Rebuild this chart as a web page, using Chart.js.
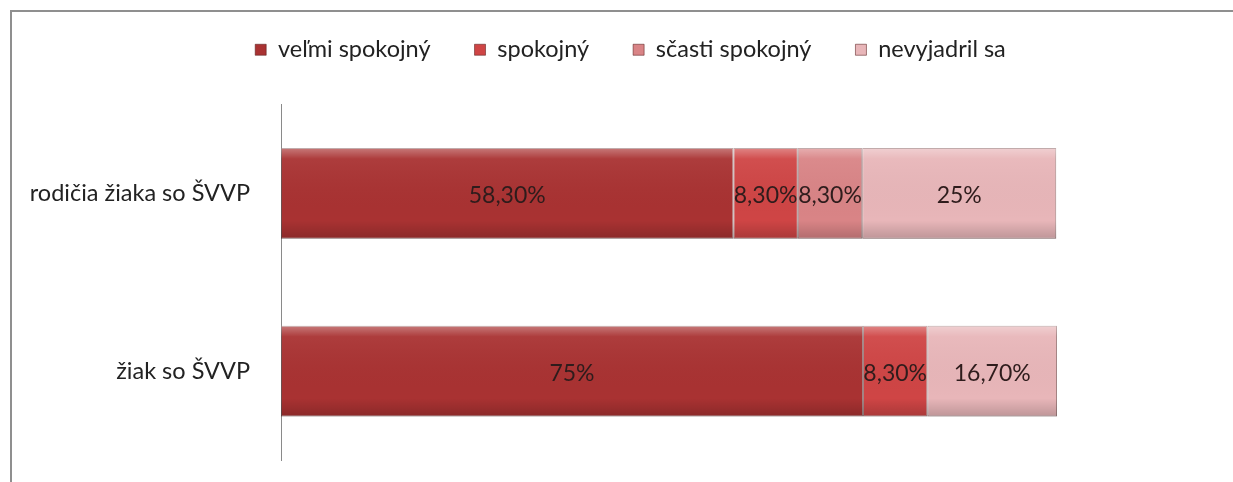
<!DOCTYPE html>
<html lang="sk">
<head>
    <meta charset="UTF-8">
    <title>Spokojnosť</title>
    <script src="https://cdn.jsdelivr.net/npm/chart.js@4.4.1/dist/chart.umd.min.js"></script>
    <style>
        html, body {
            margin: 0;
            padding: 0;
            background: #fff;
            overflow: hidden;
        }

        .frame {
            position: absolute;
            left: 10px;
            top: 10px;
            width: 1300px;
            height: 500px;
            border: 2px solid #8f8f8f;
        }

        #wrap {
            position: absolute;
            left: 0;
            top: 0;
            width: 1233px;
            height: 482px;
        }
    </style>
</head>
<body>

<div class="frame"></div>
<div id="wrap"><canvas id="myChart" width="1233" height="482"></canvas></div>

<script>
    var categories = ['rodičia žiaka so ŠVVP', 'žiak so ŠVVP'];
    var seriesNames = ['veľmi spokojný', 'spokojný', 'sčasti spokojný', 'nevyjadril sa'];
    var velmiSpokojny = [58.3, 75];
    var spokojny = [8.3, 8.3];
    var scastiSpokojny = [8.3, 0];
    var nevyjadril = [25, 16.7];
    var seriesColors = ['#a93232', '#cf4545', '#d98486', '#e8b6b9'];

    var LEGEND_EXTRA = 33;  // empty room under the legend
    var LEGEND_SHIFT = 92;  // legend sits right of the plot centre in the original

    // 58.3 -> "58,30%", 25 -> "25%"
    function fmt(v) {
        if (Math.round(v) === v) return v + '%';
        return v.toFixed(2).replace('.', ',') + '%';
    }

    var legendTweak = {
        id: 'legendTweak',
        beforeUpdate: function (chart) {
            var lg = chart.legend;
            if (!lg || lg._roomDone) return;
            var fit = lg.fit;
            lg.fit = function () {
                fit.apply(this, arguments);
                this.height += LEGEND_EXTRA;
            };
            lg._roomDone = true;
        },
        afterLayout: function (chart) {
            var lg = chart.legend;
            if (!lg) return;
            lg.left += LEGEND_SHIFT;
            lg.right += LEGEND_SHIFT;
        }
    };

    // values on the bars + a little excel-like shading
    var barLook = {
        id: 'barLook',
        afterDatasetsDraw: function (chart) {
            var ctx = chart.ctx;
            chart.data.datasets.forEach(function (ds, i) {
                var meta = chart.getDatasetMeta(i);
                meta.data.forEach(function (bar, j) {
                    var v = ds.data[j];
                    if (!v) return;
                    var left = Math.min(bar.base, bar.x);
                    var w = Math.abs(bar.x - bar.base);
                    var top = bar.y - bar.height / 2;
                    var g = ctx.createLinearGradient(0, top, 0, top + bar.height);
                    g.addColorStop(0, 'rgba(255,255,255,0.35)');
                    g.addColorStop(0.12, 'rgba(255,255,255,0.05)');
                    g.addColorStop(0.8, 'rgba(0,0,0,0)');
                    g.addColorStop(1, 'rgba(0,0,0,0.18)');
                    ctx.save();
                    ctx.fillStyle = g;
                    ctx.fillRect(left, top, w, bar.height);
                    ctx.restore();
                });
            });
            chart.data.datasets.forEach(function (ds, i) {
                var meta = chart.getDatasetMeta(i);
                meta.data.forEach(function (bar, j) {
                    var v = ds.data[j];
                    if (!v) return;
                    ctx.save();
                    ctx.font = '23px Lato';
                    ctx.fillStyle = '#2e1c1c';
                    ctx.textAlign = 'center';
                    ctx.textBaseline = 'middle';
                    ctx.fillText(fmt(v), (bar.x + bar.base) / 2, bar.y + 2);
                    ctx.restore();
                });
            });
        }
    };

    var allData = [velmiSpokojny, spokojny, scastiSpokojny, nevyjadril];
    var datasets = seriesNames.map(function (name, i) {
        return {
            label: name,
            data: allData[i],
            backgroundColor: seriesColors[i],
            borderColor: 'rgba(90,30,30,0.55)',
            borderWidth: 1,
            borderSkipped: false,
            barPercentage: 0.51,
            categoryPercentage: 1
        };
    });

    var ctx = document.getElementById('myChart').getContext('2d');
    var myChart = new Chart(ctx, {
        type: 'bar',
        data: {
            labels: categories,
            datasets: datasets
        },
        options: {
            indexAxis: 'y',
            responsive: false,
            animation: false,
            layout: {
                padding: { left: 20, right: 176, top: -6, bottom: 22 }
            },
            plugins: {
                legend: {
                    position: 'top',
                    labels: {
                        font: { family: 'Lato', size: 23.5 },
                        color: '#222',
                        boxWidth: 11,
                        boxHeight: 11,
                        padding: 44
                    }
                },
                tooltip: { enabled: false }
            },
            scales: {
                x: {
                    stacked: true,
                    min: 0,
                    max: 100,
                    display: false
                },
                y: {
                    stacked: true,
                    grid: { display: false, drawTicks: false },
                    border: { display: true, color: '#8a8a8a', width: 1 },
                    ticks: {
                        font: { family: 'Lato', size: 23.5 },
                        color: '#222',
                        padding: 31
                    },
                    afterFit: function (scale) {
                        scale.width = 261;
                        // labels sit mid-band, no need for room above/below
                        scale.paddingTop = 0;
                        scale.paddingBottom = 0;
                    }
                }
            }
        },
        plugins: [legendTweak, barLook]
    });
</script>

</body>
</html>
